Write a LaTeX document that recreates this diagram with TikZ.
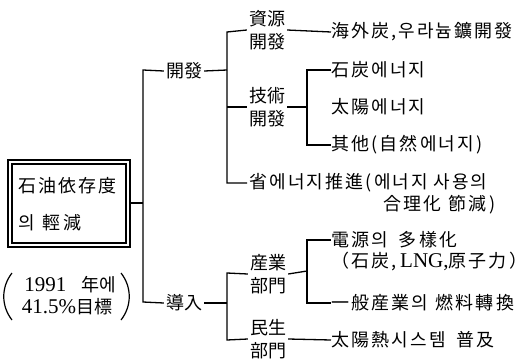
\documentclass[tikz,border=0pt]{standalone}
\usepackage{fontspec}
\setmainfont{Liberation Serif}
\newfontfamily\kr[LetterSpace=12]{Noto Sans CJK KR}
\newfontfamily\krn{Noto Sans CJK KR}
\newcommand\kfs{\fontsize{18}{22}\selectfont}
\newcommand\lfs{\fontsize{21}{22}\selectfont}
\begin{document}
\begin{tikzpicture}[x=1pt,y=-1pt,
  conn/.style={line width=1.3pt},
  paren/.style={line width=1.2pt},
  lbl/.style={inner sep=0pt,font=\kr\kfs},
  lbll/.style={lbl,anchor=west},
  two/.style={inner sep=0pt,align=center,font=\krn\fontsize{18}{23}\selectfont}]
\useasboundingbox (0,0) rectangle (530,359);
% main box
\draw[line width=1.8pt] (8,160) rectangle (130,247);
\draw[line width=1.1pt] (12,164) rectangle (126,243);
\node[lbll] (t1) at (18,186) {石油依存度};
\node[lbll] (t2) at (18,223) {의\hspace{0.45em}輕減};
\coordinate (boxr) at (130,203);
% goal note
\node[inner sep=0pt,font=\lfs] (g1) at (70,285) {1991\hspace{0.7em}{\krn\kfs 年에}};
\node[inner sep=0pt,font=\lfs] (g2) at (67,307) {41.5\%{\krn\kfs 目標}};
\coordinate (pl1) at (12,273);
\coordinate (pl2) at (12,320);
\coordinate (pr1) at (121,273);
\coordinate (pr2) at (121,320);
\draw[paren] (pl1) .. controls (1,287) and (1,306) .. (pl2);
\draw[paren] (pr1) .. controls (132,287) and (132,306) .. (pr2);
% level 1
\coordinate (v1t) at (143,70);
\coordinate (v1b) at (143,302);
\node[lbl,font=\krn\kfs] (dev) at (184,71) {開發};
\node[lbl,font=\krn\kfs] (intro) at (184,303) {導入};
\draw[conn] (boxr) -- (143,203);
\draw[conn] ([xshift=-2pt]dev.west) -- (v1t) -- (v1b) -- ([xshift=-2pt]intro.west);
% level 2 (dev)
\coordinate (v2t) at (227,32);
\coordinate (v2b) at (227,183);
\node[two] (res) at (267,30) {資源\\開發};
\node[two] (tech) at (267,107) {技術\\開發};
\node[lbll] (save) at (249,183) {省에너지推進(에너지\hspace{0.3em}사용의};
\node[lbll] (save2) at (383,205) {合理化\hspace{0.4em}節減)};
\draw[conn] ([xshift=2pt]dev.east) -- (227,70);
\draw[conn] ([xshift=-2pt]res.west) -- (v2t) -- (v2b) -- ([xshift=-2pt]save.west);
\draw[conn] (227,107) -- ([xshift=-2pt]tech.west);
\node[lbll] (abroad) at (331,32) {海外炭,\hspace{0.1em}우라늄鑛開發};
\draw[conn] ([xshift=2pt]res.east) -- (abroad.west);
\coordinate (v3t) at (307,70);
\coordinate (v3b) at (307,145);
\node[lbll] (coal) at (331,70) {石炭에너지};
\node[lbll] (solar) at (331,107) {太陽에너지};
\node[lbll] (other) at (331,145) {其他(自然에너지)};
\draw[conn] ([xshift=2pt]tech.east) -- (307,107);
\draw[conn] (coal.west) -- (v3t) -- (v3b) -- (other.west);
% level 2 (intro)
\coordinate (v4t) at (227,273);
\coordinate (v4b) at (227,340);
\node[two] (ind) at (268,274) {産業\\部門};
\node[two] (civ) at (268,339) {民生\\部門};
\draw[conn] ([xshift=2pt]intro.east) -- (227,303);
\draw[conn] ([xshift=-2pt]ind.west) -- (v4t) -- (v4b) -- ([xshift=-2pt]civ.west);
\node[lbll] (power) at (331,240) {電源의\hspace{0.6em}多樣化};
\node[lbll,font=\lfs] (power2) at (331,262) {{\kr\kfs（石炭,}\,LNG,{\kr\kfs 原子力）}};
\node[lbll] (fuel) at (331,303) {一般産業의\hspace{0.4em}燃料轉換};
\node[lbll] (sun) at (331,340) {太陽熱시스템\hspace{0.6em}普及};
\draw[conn] ([xshift=2pt]ind.east) -- (307,271);
\draw[conn] (power.west) -- (307,240) -- (307,303) -- (fuel.west);
\draw[conn] ([xshift=2pt]civ.east) -- (sun.west);
\end{tikzpicture}
\end{document}
